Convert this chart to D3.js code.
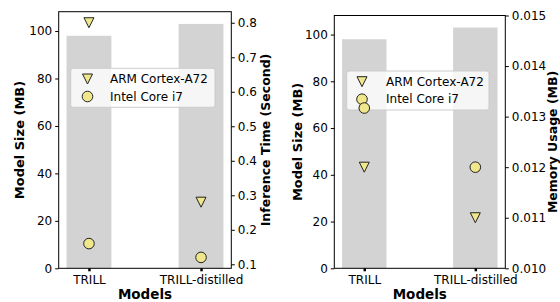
<!DOCTYPE html>
<html><head><meta charset="utf-8">
<script src="https://cdn.jsdelivr.net/npm/d3@7"></script>
<style>body{margin:0;background:#fff}svg{display:block;font-family:"DejaVu Sans",sans-serif}</style>
</head><body><svg id="c" width="560" height="302"></svg>
<script>
const categories = ["TRILL", "TRILL-distilled"];
const modelSize = [98, 103];
const timeARM = [0.80, 0.28];
const timeI7 = [0.16, 0.12];
const memARM = [0.0120, 0.0110];
const memI7 = [0.01317, 0.0120];
const sizeTicks = [0, 20, 40, 60, 80, 100];
const timeTicks = [0.1, 0.2, 0.3, 0.4, 0.5, 0.6, 0.7, 0.8];
const memTicks = [0.010, 0.011, 0.012, 0.013, 0.014, 0.015];
const seriesNames = ["ARM Cortex-A72", "Intel Core i7"];

const svg = d3.select("#c");
const BAR = "#d3d3d3", MK = "#f0e68c";

function tri(s) { const h = s / 2; return `M${-h},${-h}L${h},${-h}L0,${h}Z`; }

function panel(o) {
  const g = svg.append("g");
  const x = d3.scaleLinear().domain([-0.27, 1.27]).range([o.l, o.r]);
  const y = d3.scaleLinear().domain([0, 108.15]).range([o.b, o.t]);
  const y2 = d3.scaleLinear().domain(o.y2dom).range([o.b, o.t]);
  const bw = x(0.4) - x(0);
  g.selectAll("rect.bar").data(modelSize).join("rect").attr("class", "bar")
    .attr("x", (d, i) => x(i) - bw / 2).attr("width", bw)
    .attr("y", d => y(d)).attr("height", d => y(0) - y(d)).attr("fill", BAR);
  // legend
  const L = o.leg;
  const lg = g.append("g");
  lg.append("rect").attr("x", L.x).attr("y", L.y).attr("width", L.w).attr("height", L.h).attr("rx", 2.5)
    .attr("fill", "#fff").attr("fill-opacity", 0.8).attr("stroke", "#ccc").attr("stroke-width", 1);
  lg.append("path").attr("d", tri(10)).attr("transform", `translate(${L.mx},${L.y + 10.7})`)
    .attr("fill", MK).attr("stroke", "#222");
  lg.append("circle").attr("cx", L.mx).attr("cy", L.y + 28.2).attr("r", 5.3)
    .attr("fill", MK).attr("stroke", "#222");
  seriesNames.forEach((s, i) => lg.append("text").attr("x", L.tx).attr("y", L.y + 10.7 + i * 17.5)
    .attr("dy", "0.35em").attr("font-size", 12).text(s));
  // markers
  g.selectAll("path.arm").data(o.arm).join("path").attr("class", "arm")
    .attr("d", tri(10)).attr("transform", (d, i) => `translate(${x(i)},${y2(d)})`)
    .attr("fill", MK).attr("stroke", "#222").attr("stroke-width", 1);
  g.selectAll("circle.i7").data(o.i7).join("circle").attr("class", "i7")
    .attr("cx", (d, i) => x(i)).attr("cy", d => y2(d)).attr("r", 5.3)
    .attr("fill", MK).attr("stroke", "#222").attr("stroke-width", 1);
  g.append("rect").attr("x", o.l).attr("y", o.t).attr("width", o.r - o.l).attr("height", o.b - o.t)
    .attr("fill", "none").attr("stroke", "#000").attr("stroke-width", 1);
  const ax = g.append("g").attr("transform", `translate(0,${o.b})`)
    .call(d3.axisBottom(x).tickValues([0, 1]).tickFormat(i => categories[i]).tickSize(3).tickPadding(4));
  ax.select(".domain").remove();
  ax.selectAll("line").attr("stroke-width", 2.5);
  ax.selectAll("text").attr("font-size", 12).attr("fill", "#000").attr("font-family", "DejaVu Sans");
  const ay = g.append("g").attr("transform", `translate(${o.l},0)`)
    .call(d3.axisLeft(y).tickValues(sizeTicks).tickSize(3.5).tickPadding(3));
  ay.select(".domain").remove();
  ay.selectAll("text").attr("font-size", 12).attr("fill", "#000").attr("font-family", "DejaVu Sans");
  const ay2 = g.append("g").attr("transform", `translate(${o.r},0)`)
    .call(d3.axisRight(y2).tickValues(o.y2ticks).tickFormat(o.fmt).tickSize(3.5).tickPadding(3));
  ay2.select(".domain").remove();
  ay2.selectAll("text").attr("font-size", 12).attr("fill", "#000").attr("font-family", "DejaVu Sans");
  const cy = (o.t + o.b) / 2;
  g.append("text").attr("x", (o.l + o.r) / 2).attr("y", 299).attr("text-anchor", "middle")
    .attr("font-size", 13.5).attr("font-weight", "bold").text("Models");
  g.append("text").attr("transform", `translate(${o.ylx},${cy}) rotate(-90)`).attr("text-anchor", "middle")
    .attr("dy", "0.35em").attr("font-size", 13).attr("font-weight", "bold").text("Model Size (MB)");
  g.append("text").attr("transform", `translate(${o.y2lx},${cy}) rotate(-90)`).attr("text-anchor", "middle")
    .attr("dy", "0.35em").attr("font-size", 12.5).attr("font-weight", "bold").text(o.y2label);
}

panel({ l: 58.7, r: 231.3, t: 11.7, b: 268.3, y2dom: [0.0884, 0.832], y2ticks: timeTicks,
  fmt: d3.format(".1f"), arm: timeARM, i7: timeI7, ylx: 19, y2lx: 266, y2label: "Inference Time (Second)",
  leg: { x: 70.7, y: 68.3, w: 144.3, h: 39, mx: 87.5, tx: 110 } });
panel({ l: 334.3, r: 505.3, t: 15.5, b: 268.3, y2dom: [0.010, 0.015], y2ticks: memTicks,
  fmt: d3.format(".3f"), arm: memARM, i7: memI7, ylx: 297, y2lx: 553, y2label: "Memory Usage (MB)",
  leg: { x: 346.7, y: 71, w: 142.3, h: 39, mx: 362, tx: 386 } });
</script></body></html>
